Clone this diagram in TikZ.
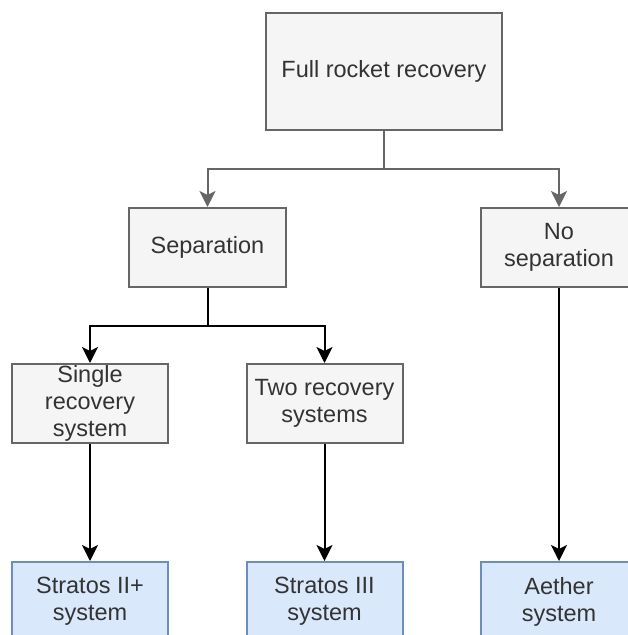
\documentclass[tikz,border=0pt]{standalone}
\usepackage{fontspec}
\setmainfont{Liberation Sans}
\usetikzlibrary{arrows.meta}
\definecolor{gborder}{HTML}{666666}
\definecolor{gfill}{HTML}{F5F5F5}
\definecolor{bborder}{HTML}{6C8EBF}
\definecolor{bfill}{HTML}{DAE8FC}
\definecolor{txt}{HTML}{333333}
\tikzset{
  box/.style={line width=2pt, inner sep=0pt, align=center, text=txt,
    font=\fontsize{23.5}{27}\selectfont, minimum width=156pt, minimum height=79pt},
  gbox/.style={box, draw=gborder, fill=gfill},
  bbox/.style={box, draw=bborder, fill=bfill},
  tip/.style={-{Stealth[length=16pt,width=16pt,inset=4pt]}},
  gline/.style={line width=2pt, draw=gborder},
  kline/.style={line width=2pt, draw=black},
}
\begin{document}
\begin{tikzpicture}[x=1pt,y=1pt]
\useasboundingbox (0,0) rectangle (628,-635);
\clip (0,0) rectangle (628,-635);
\fill[white] (0,0) rectangle (628,-635);
\node[gbox, minimum width=236pt, minimum height=117pt] (top) at (384,-71.5) {Full rocket recovery};
\node[gbox, minimum width=157pt] (sep) at (207.5,-247.5) {Separation};
\node[gbox] (nosep) at (559,-247.5) {No\\separation};
\node[gbox] (single) at (90,-403.5) {Single\\recovery\\system};
\node[gbox] (two) at (324.5,-403.5) {Two recovery\\systems};
\node[bbox] (s2) at (90,-601.5) {Stratos II+\\system};
\node[bbox] (s3) at (324.5,-601.5) {Stratos III\\system};
\node[bbox] (ae) at (559,-601.5) {Aether\\system};
\coordinate (j1) at (384,-169);
\coordinate (j2) at (207.5,-326);
\draw[gline] (top.south) -- (j1);
\draw[gline, tip] (j1) -| (sep.north);
\draw[gline, tip] (j1) -| (nosep.north);
\draw[kline] (sep.south) -- (j2);
\draw[kline, tip] (j2) -| (single.north);
\draw[kline, tip] (j2) -| (two.north);
\draw[kline, tip] (single.south) -- (s2.north);
\draw[kline, tip] (two.south) -- (s3.north);
\draw[kline, tip] (nosep.south) -- (ae.north);
\end{tikzpicture}
\end{document}
